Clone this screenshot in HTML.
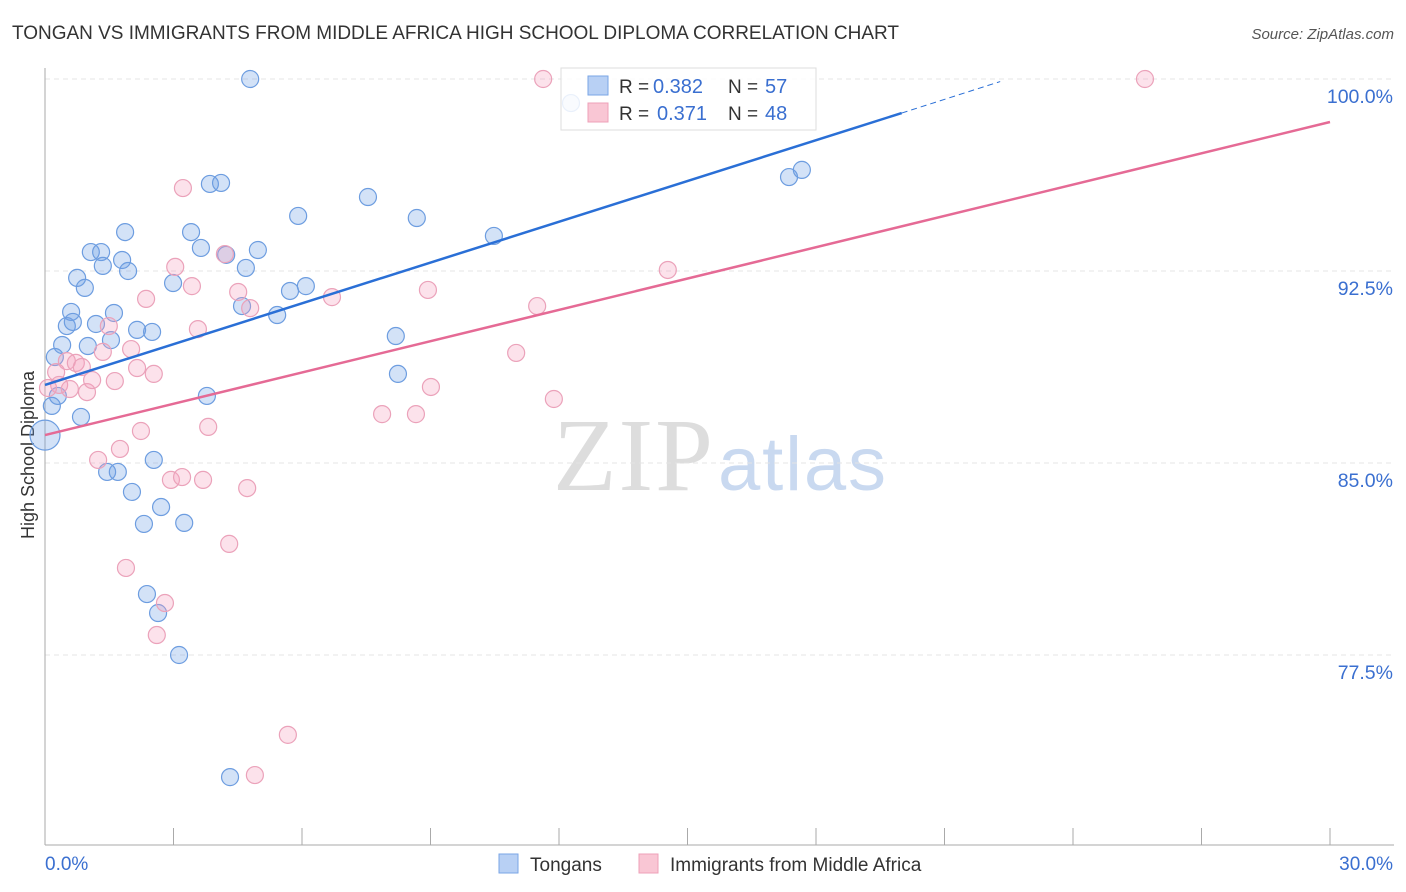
<!DOCTYPE html>
<html><head><meta charset="utf-8"><style>
body{margin:0;background:#fff;font-family:"Liberation Sans",sans-serif;}
svg{display:block}
</style></head><body>
<svg id="chart" width="1406" height="892">
<text x="12" y="39" font-size="19" fill="#333" textLength="887">TONGAN VS IMMIGRANTS FROM MIDDLE AFRICA HIGH SCHOOL DIPLOMA CORRELATION CHART</text>
<text x="1394" y="39" font-size="15" fill="#555" font-style="italic" text-anchor="end">Source: ZipAtlas.com</text>
<text transform="translate(34,455) rotate(-90)" font-size="18" fill="#333" text-anchor="middle">High School Diploma</text>
<text x="553" y="490" font-size="104" fill="#ddd" font-family="Liberation Serif,serif" textLength="160">ZIP</text>
<text x="718" y="490" font-size="76" fill="#c9d9f0" textLength="168">atlas</text>
<g id="grid"></g><g id="pts"></g><g id="lines"></g>
<g>
<rect x="561" y="68" width="255" height="62" fill="#fff" fill-opacity="0.85" stroke="#ddd"/>
<rect x="588" y="76" width="20" height="19" fill="#b8d0f4" stroke="#7aa6e6"/>
<rect x="588" y="103" width="20" height="19" fill="#f9c6d4" stroke="#eea0b8"/>
<text x="619" y="93" font-size="19" fill="#333">R =</text>
<text x="653" y="93" font-size="20" fill="#3a6fd0">0.382</text>
<text x="728" y="93" font-size="19" fill="#333">N =</text>
<text x="765" y="93" font-size="20" fill="#3a6fd0">57</text>
<text x="619" y="120" font-size="19" fill="#333">R =</text>
<text x="657" y="120" font-size="20" fill="#3a6fd0">0.371</text>
<text x="728" y="120" font-size="19" fill="#333">N =</text>
<text x="765" y="120" font-size="20" fill="#3a6fd0">48</text>
</g>
<g>
<rect x="499" y="854" width="19" height="19" fill="#b8d0f4" stroke="#7aa6e6"/>
<text x="530" y="871" font-size="19" fill="#333">Tongans</text>
<rect x="639" y="854" width="19" height="19" fill="#f9c6d4" stroke="#eea0b8"/>
<text x="670" y="871" font-size="19" fill="#333">Immigrants from Middle Africa</text>
</g>
</svg>
<script>
const xTicks=[0,30];
const yTicks=[77.5,85,92.5,100];
const blueX=[4.79,12.28,3.85,4.11,7.54,5.91,8.68,17.37,17.67,1.87,3.41,10.48,1.07,1.31,3.64,4.23,4.97,1.80,1.35,4.69,1.94,0.75,0.93,2.99,5.72,6.09,0.61,1.61,4.60,5.42,0.51,0.65,1.19,2.15,2.50,8.19,0.40,1.00,1.54,0.23,8.24,0.16,0.30,0.84,3.78,0.00,2.54,1.45,1.70,2.03,2.71,2.31,3.25,2.38,2.64,3.13,4.32];
const blueY=[100,99.06,95.90,95.94,95.39,94.65,94.57,96.17,96.45,94.02,94.02,93.87,93.24,93.24,93.40,93.13,93.32,92.93,92.70,92.62,92.50,92.23,91.84,92.03,91.72,91.91,90.90,90.86,91.13,90.78,90.35,90.51,90.43,90.20,90.12,89.96,89.61,89.57,89.80,89.14,88.48,87.23,87.62,86.80,87.62,86.09,85.12,84.65,84.65,83.87,83.28,82.62,82.66,79.88,79.14,77.50,72.73];
const pinkX=[11.63,25.68,3.22,4.20,3.04,3.43,4.51,2.36,4.79,6.70,8.94,11.49,14.54,3.57,1.49,2.01,1.35,0.51,0.72,0.26,0.86,0.33,0.58,0.98,1.10,1.63,2.15,2.54,11.00,9.01,7.87,8.66,11.88,3.81,2.24,1.75,1.24,2.94,3.20,3.69,4.72,4.30,1.89,2.80,2.61,5.67,4.90,0.07];
const pinkY=[100,100,95.74,93.16,92.66,91.91,91.68,91.41,91.05,91.48,91.76,91.13,92.54,90.23,90.35,89.45,89.34,88.98,88.91,88.55,88.75,88.05,87.89,87.77,88.24,88.20,88.71,88.48,89.30,87.97,86.91,86.91,87.50,86.41,86.25,85.55,85.12,84.34,84.45,84.34,84.02,81.84,80.90,79.53,78.28,74.38,72.81,87.93];
const blueTrend=[0,88.05,20,98.67,22.3,99.9];
const pinkTrend=[0,86.09,30,98.32];
const NS="http://www.w3.org/2000/svg";
const sx=v=>45+v/30*1285, sy=v=>79+(100-v)/7.5*192;
function mk(t,a,p){const e=document.createElementNS(NS,t);for(const k in a)e.setAttribute(k,a[k]);const par=document.getElementById(p);if(p==='pts'){par.appendChild(e);}else par.appendChild(e);return e;}
yTicks.forEach(v=>{
 const g=mk('line',{x1:45,x2:1394,y1:sy(v),y2:sy(v),stroke:'#e4e4e4','stroke-dasharray':'5,4'},'grid');
 
 
 const t=mk('text',{x:1393,y:sy(v)+24,'font-size':19.5,fill:'#3a6fd0','text-anchor':'end'},'grid');t.textContent=v.toFixed(1)+'%';
 
 
});
mk('line',{x1:45,x2:45,y1:68,y2:845,stroke:'#aaa'},'grid');
mk('line',{x1:45,x2:1394,y1:845,y2:845,stroke:'#aaa'},'grid');
for(let i=0;i<=10;i++){const x=sx(i*3);mk('line',{x1:x,x2:x,y1:828,y2:845,stroke:'#aaa'},'grid');}
xTicks.forEach((v,i)=>{const t=mk('text',{x:i?1393:45,y:870,'font-size':19,fill:'#3a6fd0','text-anchor':i?'end':'start'},'grid');t.textContent=v.toFixed(1)+'%';
 
 });
blueX.forEach((x,i)=>{const c=mk('circle',{cx:sx(x),cy:sy(blueY[i]),r:x===0?15:8.5,fill:'rgba(110,160,230,0.3)',stroke:'#6d9de0','stroke-width':1.2},'pts');
 
 });
pinkX.forEach((x,i)=>{const c=mk('circle',{cx:sx(x),cy:sy(pinkY[i]),r:8.5,fill:'rgba(245,160,190,0.3)',stroke:'#eba2ba','stroke-width':1.2},'pts');
 
 });
let l=mk('line',{x1:sx(blueTrend[0]),y1:sy(blueTrend[1]),x2:sx(blueTrend[2]),y2:sy(blueTrend[3]),stroke:'#2a6fd6','stroke-width':2.5},'lines');


l=mk('line',{x1:sx(blueTrend[2]),y1:sy(blueTrend[3]),x2:sx(blueTrend[4]),y2:sy(blueTrend[5]),stroke:'#2a6fd6','stroke-width':1,'stroke-dasharray':'6,4'},'lines');


l=mk('line',{x1:sx(pinkTrend[0]),y1:sy(pinkTrend[1]),x2:sx(pinkTrend[2]),y2:sy(pinkTrend[3]),stroke:'#e56a95','stroke-width':2.5},'lines');


</script>
</body></html>
